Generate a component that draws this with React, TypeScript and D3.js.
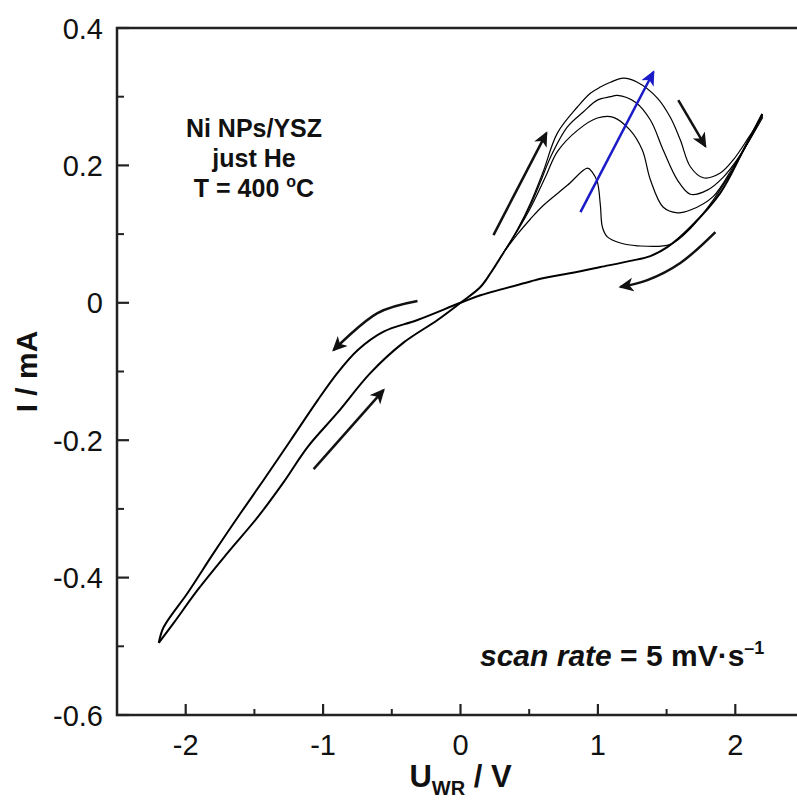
import React from "react";
import * as d3 from "d3";

// ---- data (U in V, I in mA) ----
// shared forward scan from -2.2 V up to the start of the anodic peak
const fwdSharedU = [-2.196, -2.087, -1.913, -1.695, -1.476, -1.287, -1.113, -0.895, -0.655, -0.415, -0.167, 0, 0.145, 0.218, 0.313];
const fwdSharedI = [-0.495, -0.466, -0.418, -0.364, -0.312, -0.261, -0.21, -0.16, -0.102, -0.058, -0.025, 0, 0.023, 0.043, 0.073];

// anodic part of each cycle
const cycle1U = [0.313, 0.415, 0.509, 0.604, 0.778, 0.924, 0.96, 0.996, 1.018, 1.033, 1.069, 1.164, 1.287, 1.527, 1.673, 1.84, 1.985, 2.087, 2.196];
const cycle1I = [0.073, 0.1, 0.122, 0.142, 0.171, 0.196, 0.19, 0.176, 0.142, 0.11, 0.096, 0.087, 0.083, 0.085, 0.108, 0.15, 0.195, 0.232, 0.275];
const cycle2U = [0.313, 0.415, 0.509, 0.618, 0.705, 0.851, 0.996, 1.113, 1.236, 1.324, 1.382, 1.476, 1.578, 1.673, 1.84, 1.985, 2.1, 2.196];
const cycle2I = [0.073, 0.105, 0.138, 0.183, 0.22, 0.251, 0.269, 0.27, 0.251, 0.222, 0.179, 0.139, 0.131, 0.135, 0.155, 0.198, 0.236, 0.272];
const cycle3U = [0.313, 0.415, 0.509, 0.58, 0.655, 0.778, 0.895, 0.996, 1.091, 1.142, 1.273, 1.382, 1.476, 1.578, 1.673, 1.796, 1.913, 2.036, 2.2];
const cycle3I = [0.073, 0.106, 0.142, 0.175, 0.212, 0.256, 0.278, 0.295, 0.3, 0.302, 0.292, 0.266, 0.222, 0.179, 0.158, 0.164, 0.183, 0.215, 0.27];
const cycle4U = [0.313, 0.415, 0.509, 0.6, 0.705, 0.851, 0.945, 1.018, 1.091, 1.185, 1.287, 1.433, 1.527, 1.6, 1.673, 1.767, 1.891, 1.985, 2.095, 2.2];
const cycle4I = [0.073, 0.107, 0.145, 0.19, 0.247, 0.285, 0.305, 0.314, 0.321, 0.327, 0.321, 0.298, 0.27, 0.237, 0.198, 0.182, 0.189, 0.208, 0.24, 0.273];

// shared reverse scan from +2.2 V down to -2.2 V
const revU = [2.196, 2.058, 1.891, 1.673, 1.505, 1.382, 1.236, 1.018, 0.873, 0.582, 0.509, 0.145, 0, -0.313, -0.56, -0.749, -0.895, -1.04, -1.236, -1.433, -1.6, -1.796, -1.985, -2.16, -2.196];
const revI = [0.275, 0.222, 0.16, 0.11, 0.081, 0.068, 0.061, 0.052, 0.046, 0.035, 0.031, 0.011, 0, -0.025, -0.042, -0.069, -0.102, -0.142, -0.2, -0.258, -0.306, -0.364, -0.422, -0.472, -0.495];

const xMajorTicks = [-2, -1, 0, 1, 2];
const xMinorTicks = [-1.5, -0.5, 0.5, 1.5];
const yMajorTicks = [-0.6, -0.4, -0.2, 0, 0.2, 0.4];
const yMinorTicks = [-0.5, -0.3, -0.1, 0.1, 0.3];
const xTickLabels = ["-2", "-1", "0", "1", "2"];
const yTickLabels = ["-0.6", "-0.4", "-0.2", "0", "0.2", "0.4"];

// annotation arrows in data coordinates
const blackArrows: [number, number][][] = [
  [[0.24, 0.0986], [0.625, 0.247]],
  [[1.585, 0.295], [1.782, 0.228]],
  [[-1.069, -0.242], [-0.56, -0.127]],
  [[1.855, 0.103], [1.6, 0.058], [1.36, 0.033], [1.164, 0.023]],
  [[-0.313, 0.0026], [-0.604, -0.015], [-0.924, -0.069]],
];
const blueArrow: [number, number][] = [[0.873, 0.132], [1.404, 0.336]];

const W = 797;
const H = 801;
const FONT = "'Liberation Sans', Arial, Helvetica, sans-serif";

export default function App() {
  const x = d3.scaleLinear().domain([-2.5, 2.5]).range([117, 804]);
  const y = d3.scaleLinear().domain([-0.6, 0.4]).range([715, 28]);

  const line = d3
    .line<[number, number]>()
    .x((d) => x(d[0]))
    .y((d) => y(d[1]))
    .curve(d3.curveCatmullRom.alpha(0.5));
  const straight = d3
    .line<[number, number]>()
    .x((d) => x(d[0]))
    .y((d) => y(d[1]))
    .curve(d3.curveLinear);
  const zip = (u: number[], i: number[]) => u.map((v, k) => [v, i[k]] as [number, number]);

  const cycles = [
    zip(cycle1U, cycle1I),
    zip(cycle2U, cycle2I),
    zip(cycle3U, cycle3I),
    zip(cycle4U, cycle4I),
  ];
  const fwd = zip(fwdSharedU, fwdSharedI);
  const rev = zip(revU, revI);

  const x0 = x(-2.5);
  const x1 = x(2.5);
  const yTop = y(0.4);
  const yBot = y(-0.6);

  return (
    <svg
      width={W}
      height={H}
      style={{ position: "absolute", left: 0, top: 0, background: "#fff" }}
      fontFamily={FONT}
    >
      <defs>
        <marker id="ahBlack" markerUnits="userSpaceOnUse" markerWidth="18" markerHeight="16" refX="13" refY="7" orient="auto">
          <path d="M0,0 L15,7 L0,14 L4,7 Z" fill="#111" />
        </marker>
        <marker id="ahBlue" markerUnits="userSpaceOnUse" markerWidth="18" markerHeight="16" refX="13" refY="7" orient="auto">
          <path d="M0,0 L15,7 L0,14 L4,7 Z" fill="#1a1ac8" />
        </marker>
      </defs>
      <rect x={0} y={0} width={W} height={H} fill="#fff" />

      {/* frame */}
      <rect x={x0} y={yTop} width={x1 - x0} height={yBot - yTop} fill="none" stroke="#222" strokeWidth={2.5} />

      {/* y ticks */}
      {yMajorTicks.map((t) => (
        <line key={"ym" + t} x1={x0} x2={x0 + 12} y1={y(t)} y2={y(t)} stroke="#222" strokeWidth={2.2} />
      ))}
      {yMinorTicks.map((t) => (
        <line key={"yn" + t} x1={x0} x2={x0 + 7} y1={y(t)} y2={y(t)} stroke="#222" strokeWidth={2} />
      ))}
      {yMajorTicks.map((t, k) => (
        <text key={"yl" + t} x={x0 - 14} y={y(t) + 10.5} textAnchor="end" fontSize={29} fill="#111">
          {yTickLabels[k]}
        </text>
      ))}

      {/* x ticks */}
      {xMajorTicks.map((t) => (
        <line key={"xm" + t} x1={x(t)} x2={x(t)} y1={yBot} y2={yBot - 11} stroke="#222" strokeWidth={2.2} />
      ))}
      {xMinorTicks.map((t) => (
        <line key={"xn" + t} x1={x(t)} x2={x(t)} y1={yBot} y2={yBot - 6} stroke="#222" strokeWidth={2} />
      ))}
      {xMajorTicks.map((t, k) => (
        <text key={"xl" + t} x={x(t)} y={yBot + 40} textAnchor="middle" fontSize={29} fill="#111">
          {xTickLabels[k]}
        </text>
      ))}

      {/* axis titles */}
      <text x={x(0)} y={787} textAnchor="middle" fontSize={31} fontWeight="bold" fill="#111">
        U
        <tspan fontSize={20} dy={8}>WR</tspan>
        <tspan dy={-8}> / V</tspan>
      </text>
      <text
        transform={`translate(37,${(yTop + yBot) / 2}) rotate(-90)`}
        textAnchor="middle"
        fontSize={30}
        fontWeight="bold"
        fill="#111"
      >
        I / mA
      </text>

      {/* data */}
      <path d={line(fwd) || ""} fill="none" stroke="#000" strokeWidth={2} />
      <path d={line(rev) || ""} fill="none" stroke="#000" strokeWidth={2} />
      {cycles.map((c, k) => (
        <path key={"c" + k} d={line(c) || ""} fill="none" stroke="#000" strokeWidth={1.2} />
      ))}

      {/* arrows */}
      {blackArrows.map((a, k) => (
        <path
          key={"a" + k}
          d={(a.length > 2 ? line(a) : straight(a)) || ""}
          fill="none"
          stroke="#111"
          strokeWidth={2.5}
          markerEnd="url(#ahBlack)"
        />
      ))}
      <path d={straight(blueArrow) || ""} fill="none" stroke="#1a1ac8" strokeWidth={2.5} markerEnd="url(#ahBlue)" />

      {/* annotations */}
      <g fontWeight="bold" fontSize={25} fill="#111" textAnchor="middle">
        <text x={254} y={137}>Ni NPs/YSZ</text>
        <text x={254} y={167}>just He</text>
        <text x={254} y={197}>
          T = 400 <tspan fontSize={16} dy={-10}>o</tspan>
          <tspan dy={10}>C</tspan>
        </text>
      </g>
      <text x={480} y={666} fontWeight="bold" fontSize={30} fill="#111">
        <tspan fontStyle="italic">scan rate</tspan>
        <tspan> = 5 mV·s</tspan>
        <tspan fontSize={18} dy={-12}>–1</tspan>
      </text>
    </svg>
  );
}
